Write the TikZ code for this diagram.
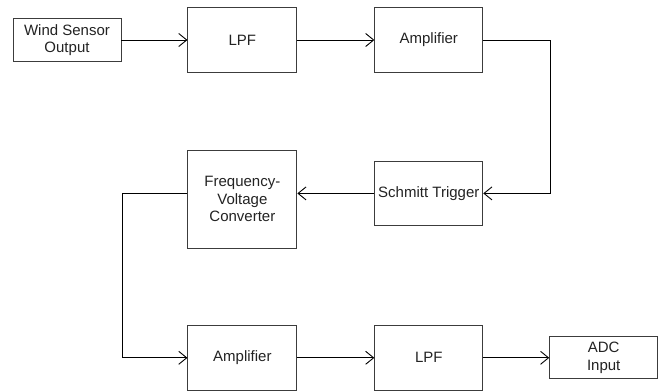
\documentclass[tikz,border=0pt]{standalone}
\usepackage{fontspec}
\setmainfont{Liberation Sans}
\usetikzlibrary{arrows.meta, positioning}
\definecolor{boxgray}{RGB}{60, 60, 60}
\definecolor{textgray}{RGB}{35, 35, 35}

\begin{document}
\begin{tikzpicture}[
    x=1pt, y=1pt,
    box/.style={rectangle, draw=boxgray, line width=0.9pt, fill=white, text=textgray, align=center, inner sep=0pt, minimum width=108pt, minimum height=65pt, font=\fontsize{15}{17.5}\selectfont},
    smallbox/.style={box, minimum height=43pt},
    arrow/.style={line width=0.9pt, -{Straight Barb[length=8pt, width=13pt, line width=0.9pt]}}
]
\useasboundingbox (0,0) rectangle (662,-391);

\node (ws) [smallbox] at (67,-40) {Wind Sensor\\Output};

\node (lpf1) [box, minimum width=109pt, right=66pt of ws] {LPF};

\node (amp1) [box, right=77pt of lpf1] {Amplifier};

\node (st) [box, minimum height=64pt, below=88pt of amp1] {Schmitt Trigger};

\node (fv) [box, minimum width=109pt, minimum height=98pt, left=77pt of st, yshift=-6pt] {Frequency-\\Voltage\\Converter};

\node (amp2) [box, minimum width=109pt, below=76pt of fv] {Amplifier};

\node (lpf2) [box, right=77pt of amp2] {LPF};

\node (adc) [smallbox, minimum height=42pt, right=66pt of lpf2] {ADC\\Input};

\draw[arrow] (ws) -- (lpf1);
\draw[arrow] (lpf1) -- (amp1);
\draw[arrow] (amp1.east) -- ++(67,0) |- (st.east);
\draw[arrow] (st.west) -- (st.west -| fv.east);
\draw[arrow] (fv.west |- st.west) -- ++(-65,0) |- (amp2.west);
\draw[arrow] (amp2) -- (lpf2);
\draw[arrow] (lpf2) -- (adc);

\end{tikzpicture}
\end{document}
